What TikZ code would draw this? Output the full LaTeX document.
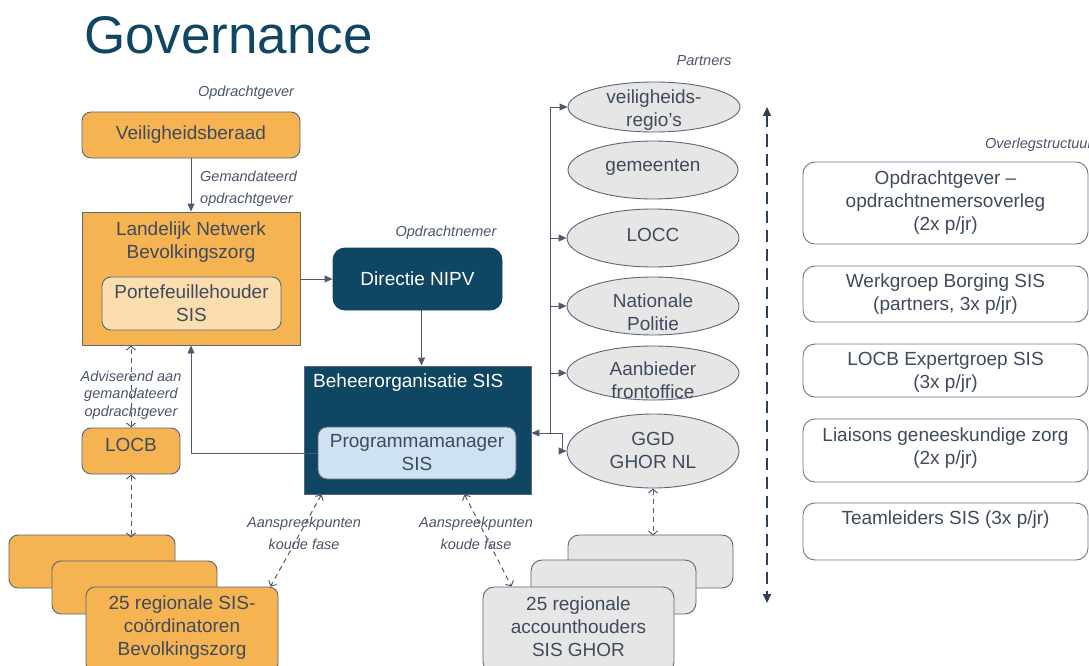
\documentclass[tikz,border=0pt]{standalone}
\usepackage{fontspec}
\setmainfont{Liberation Sans}
\usetikzlibrary{arrows.meta,shapes.geometric}
\definecolor{orng}{HTML}{F6B352}
\definecolor{peach}{HTML}{FCDDB0}
\definecolor{navy}{HTML}{0E4663}
\definecolor{ltblue}{HTML}{CFE2F3}
\definecolor{grayfill}{HTML}{E6E6E6}
\definecolor{bord}{HTML}{5B6676}
\definecolor{txt}{HTML}{3F4B5D}
\definecolor{lnc}{HTML}{4F5B6D}
\definecolor{itl}{HTML}{4A5568}
\definecolor{dashc}{HTML}{2E3F5C}
\begin{document}
\begin{tikzpicture}[x=1pt,y=-1pt,
  base/.style={draw=bord, line width=0.9pt, align=center, text=txt,
    font=\fontsize{19}{23}\selectfont, inner sep=0pt},
  orbox/.style={base, fill=orng, rounded corners=9pt},
  sqbox/.style={base, fill=orng},
  pbox/.style={base, fill=peach, rounded corners=9pt},
  nvbox/.style={base, fill=navy, draw=navy, text=white, rounded corners=12pt},
  nvsq/.style={base, fill=navy, draw=bord},
  lbbox/.style={base, fill=ltblue, rounded corners=9pt},
  gbox/.style={base, fill=grayfill, rounded corners=11pt},
  wbox/.style={base, fill=white, draw=bord!90, rounded corners=12pt},
  ell/.style={base, ellipse, fill=grayfill},
  btext/.style={align=center, text=txt, font=\fontsize{19}{23}\selectfont, inner sep=0pt},
  itlabel/.style={align=center, text=itl, font=\itshape\fontsize{14.5}{22}\selectfont, inner sep=0pt},
  solid arrow/.style={draw=lnc, line width=0.9pt, -{Triangle[length=8pt,width=7pt]}},
  plainline/.style={draw=lnc, line width=0.9pt},
  dashed arrow/.style={draw=lnc, line width=1pt, dash pattern=on 5pt off 4pt,
    {Straight Barb[length=4pt,width=9pt]}-{Straight Barb[length=4pt,width=9pt]}},
]
\useasboundingbox (0,0) rectangle (1089,666);

% Title
\node[anchor=base west, inner sep=0pt, text=navy, font=\fontsize{53}{60}\selectfont] (title) at (84,54) {Governance};

% Left column
\node[itlabel] (lblog) at (246,93) {Opdrachtgever};
\node[orbox, minimum width=218, minimum height=46] (vb) at (191,135) {Veiligheidsberaad};
\node[sqbox, minimum width=218, minimum height=133] (lnb) at (191,278.5) {};
\node[btext] (lnbt) at (191,242) {Landelijk Netwerk\\Bevolkingszorg};
\node[pbox, minimum width=179, minimum height=53] (pf) at (191.5,303.5) {Portefeuillehouder\\SIS};
\draw[solid arrow] (vb.south) -- (lnb.north);
\node[itlabel, anchor=west, align=left] (gem) at (200,189) {Gemandateerd\\opdrachtgever};

% Opdrachtnemer
\node[itlabel] (lblon) at (446,233) {Opdrachtnemer};
\node[nvbox, minimum width=169, minimum height=62] (dir) at (417.5,279) {Directie NIPV};
\draw[solid arrow] (lnb.east |- dir.west) -- (dir.west);

\node[nvsq, minimum width=227, minimum height=128] (bos) at (417.5,430) {};
\node[anchor=west, text=white, font=\fontsize{19}{23}\selectfont, inner sep=0pt] (bost) at (313,383) {Beheerorganisatie SIS};
\draw[solid arrow] ([xshift=4pt]dir.south) -- ([xshift=4pt]dir.south |- bos.north);
\node[lbbox, minimum width=198, minimum height=52] (pm) at (417,453) {Programmamanager\\SIS};
\draw[solid arrow] (pm.west) -| (lnb.south);

% LOCB
\node[orbox, minimum width=98, minimum height=46] (locb) at (131,451) {};
\node[btext] (locbt) at (131,445) {LOCB};
\draw[dashed arrow] (locb.north) -- (locb.north |- lnb.south);
\node[itlabel, font=\itshape\fontsize{14.5}{17.5}\selectfont] (adv) at (131,395) {Adviserend aan\\gemandateerd\\opdrachtgever};

% Left stack
\node[orbox, minimum width=166, minimum height=53] (s1) at (92,561.5) {};
\node[orbox, minimum width=165, minimum height=53] (s2) at (134.5,587.5) {};
\node[orbox, minimum width=192, minimum height=86] (s3) at (182,630) {};
\node[btext] (s3t) at (182,628) {25 regionale SIS-\\coördinatoren\\Bevolkingszorg};
\draw[dashed arrow] (locb.south) -- ([yshift=-3pt]locb.south |- s1.north);

% Aanspreekpunten
\draw[dashed arrow] ([xshift=18pt]bos.south west) -- ([xshift=-8pt]s3.north east);
\node[itlabel] (asp1) at (304,533) {Aanspreekpunten\\koude fase};

% Right stack
\node[gbox, minimum width=165, minimum height=53] (r1) at (650.5,561.5) {};
\node[gbox, minimum width=165, minimum height=54] (r2) at (613.5,587) {};
\node[gbox, minimum width=191, minimum height=86] (r3) at (578.5,630) {};
\node[btext] (r3t) at (578.5,627) {25 regionale\\accounthouders\\SIS GHOR};
\draw[dashed arrow] ([xshift=-67pt]bos.south east) -- ([xshift=29pt]r3.north west);
\node[itlabel] (asp2) at (476,533) {Aanspreekpunten\\koude fase};

% Partners
\node[itlabel] (lblp) at (704,61) {Partners};
\node[ell, minimum width=172, minimum height=50] (e1) at (654,107) {};
\node[btext] (e1t) at (654,110.5) {veiligheids-\\regio’s};
\node[ell, minimum width=170, minimum height=58] (e2) at (653,170) {};
\node[btext] (e2t) at (653,167) {gemeenten};
\node[ell, minimum width=172, minimum height=58] (e3) at (653,238) {};
\node[btext] (e3t) at (653,235) {LOCC};
\node[ell, minimum width=172, minimum height=58] (e4) at (653,306) {};
\node[btext] (e4t) at (653,312) {Nationale\\Politie};
\node[ell, minimum width=172, minimum height=54] (e5) at (653,373) {};
\node[btext] (e5t) at (653,380) {Aanbieder\\frontoffice};
\node[ell, minimum width=172, minimum height=74] (e6) at (653,451) {};
\node[btext] (e6t) at (653,450) {GGD\\GHOR NL};

\draw[dashed arrow] (e6.south) -- ([yshift=-1pt]e6.south |- r1.north);

% Bus connectors
\coordinate (busT) at (550,107);
\coordinate (busB) at (550,433);
\coordinate (gk) at (562,433);
\draw[plainline] (busB) -- (busT);
\draw[solid arrow] (busT) -- (e1.west);
\draw[solid arrow] (e3.west -| busT) -- (e3.west);
\draw[solid arrow] (e4.west -| busT) -- (e4.west);
\draw[solid arrow] (e5.west -| busT) -- (e5.west);
\draw[solid arrow] (busB) -- (busB -| bos.east);
\draw[solid arrow] (busB) -- (gk) |- (e6.west);

% Thick dashed vertical arrow
\coordinate (vtop) at (767,107);
\coordinate (vbot) at (767,603);
\draw[draw=dashc, line width=2pt, dash pattern=on 12pt off 7pt,
  {Triangle[length=9pt,width=8pt]}-{Triangle[length=9pt,width=8pt]}] (vtop) -- (vbot);

% Overlegstructuur
\node[itlabel, anchor=west] (lblo) at (985,145) {Overlegstructuur};
\node[wbox, minimum width=285, minimum height=82] (o1) at (945.5,203) {Opdrachtgever –\\opdrachtnemersoverleg\\(2x p/jr)};
\node[wbox, minimum width=285, minimum height=56] (o2) at (945.5,294) {Werkgroep Borging SIS\\(partners, 3x p/jr)};
\node[wbox, minimum width=285, minimum height=53] (o3) at (945.5,370.5) {};
\node[btext] (o3t) at (945.5,372) {LOCB Expertgroep SIS\\(3x p/jr)};
\node[wbox, minimum width=285, minimum height=63] (o4) at (945.5,450.5) {};
\node[btext] (o4t) at (945.5,448) {Liaisons geneeskundige zorg\\(2x p/jr)};
\node[wbox, minimum width=285, minimum height=57] (o5) at (945.5,531.5) {};
\node[btext] (o5t) at (945.5,520) {Teamleiders SIS (3x p/jr)};
\end{tikzpicture}
\end{document}
